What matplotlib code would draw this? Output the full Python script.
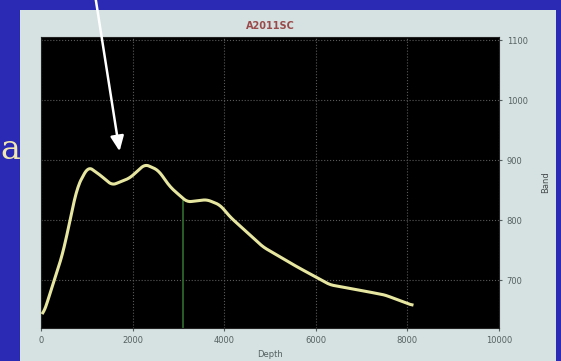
import numpy as np
import matplotlib
matplotlib.use('Agg')
import matplotlib.pyplot as plt
from matplotlib.patches import Rectangle

# curve
depth = [40, 480, 790, 1030, 1290, 1550, 1940, 2270, 2560, 2820, 3190,
         3620, 3910, 4130, 4850, 5590, 6310, 6960, 7510, 8100]
band = [640, 745, 855, 889, 875, 858, 870, 893, 883, 855, 830,
        834, 825, 805, 755, 722, 692, 683, 675, 658]

x_ticks = [0, 2000, 4000, 6000, 8000, 10000]
y_ticks = [700, 800, 900, 1000, 1100]
marker_depth = 3100

fig = plt.figure(figsize=(5.61, 3.61), dpi=100)
fig.patch.set_facecolor('#2a2ab4')

# light slide panel behind the plot
fig.patches.append(Rectangle((20 / 561, 0), 536 / 561, 1 - 10 / 361,
                             transform=fig.transFigure, facecolor='#d6e2e2',
                             edgecolor='none', zorder=-5))

ax = fig.add_axes([41 / 561, 1 - 328 / 361, 458 / 561, 291 / 361])
ax.set_facecolor('black')

# smooth the read points a little for display
xs = np.linspace(depth[0], depth[-1], 400)
ys = np.interp(xs, depth, band)
k = np.ones(9) / 9
ys_s = np.convolve(np.pad(ys, 4, mode='edge'), k, mode='valid')
ax.plot(xs, ys_s, color='#e6e6a0', lw=2.2, zorder=3)

ax.axvline(marker_depth, ymin=0, ymax=(832 - 620) / (1105 - 620),
           color='#2e6e2e', lw=1.2, zorder=2)

ax.set_xlim(0, 10000)
ax.set_ylim(620, 1105)
ax.set_xticks(x_ticks)
ax.set_yticks(y_ticks)
ax.yaxis.tick_right()
ax.yaxis.set_label_position('right')
ax.tick_params(labelsize=6, colors='#556060', length=2)
ax.grid(True, color='#5a5a5a', ls=':', lw=0.8)
for s in ax.spines.values():
    s.set_color('#222222')

ax.set_title('A2011SC', fontsize=7, color='#9a4a4a', fontweight='bold', pad=6)
ax.set_ylabel('Band', fontsize=6, color='#444a4a', labelpad=10)
ax.set_xlabel('Depth', fontsize=6, color='#556060', labelpad=4)

# white arrow pointing at the dip
ax.annotate('', xy=(1725, 910), xytext=(1180, 1175),
            arrowprops=dict(arrowstyle='-|>,head_width=0.4,head_length=0.9',
                            color='white', lw=1.8),
            annotation_clip=False)

fig.text(0.0, 0.585, 'a', fontsize=24, color='#f0e8b0', va='center',
         family='serif')

fig.savefig('out.png', dpi=100, facecolor=fig.get_facecolor())
